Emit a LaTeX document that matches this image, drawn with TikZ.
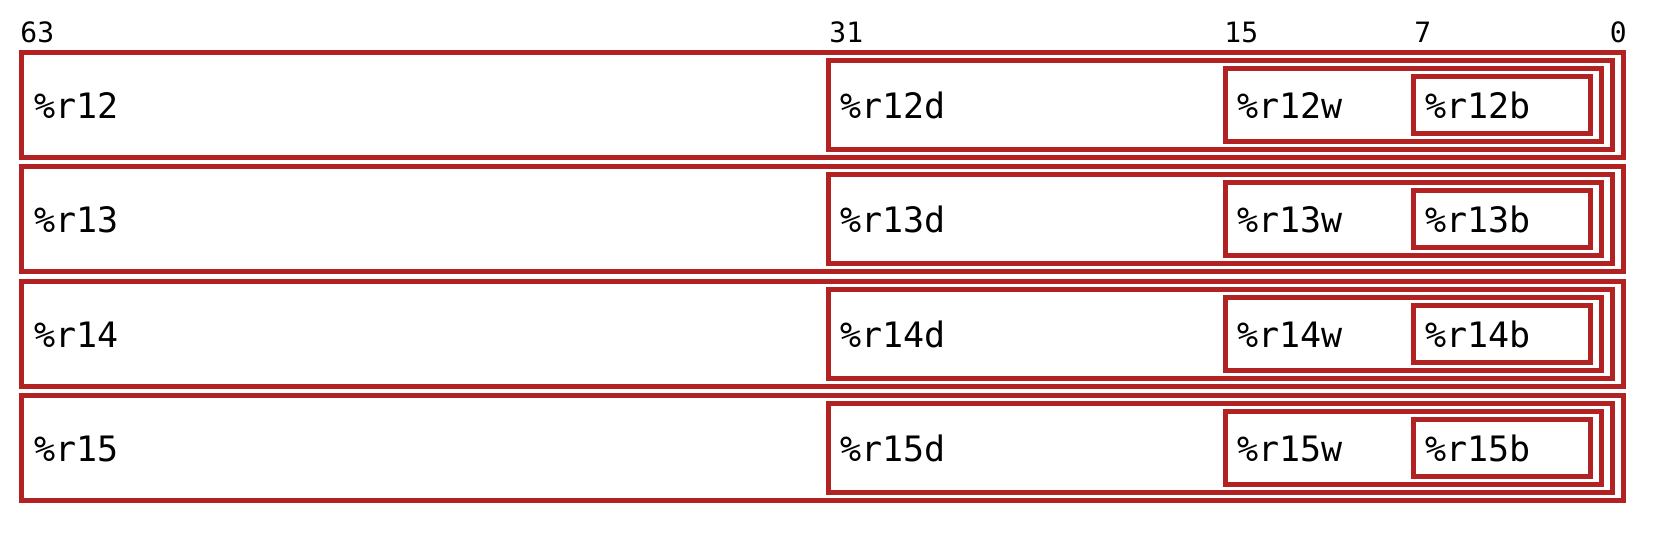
\documentclass[tikz,border=0pt]{standalone}
\usepackage{fontspec}
\setmonofont{DejaVu Sans Mono}
\definecolor{regred}{RGB}{178,34,34}

\begin{document}
\begin{tikzpicture}[
    x=0.5pt, y=-0.5pt,
    regbox/.style={draw=regred, line width=2.5pt},
    regname/.style={anchor=base west, inner sep=0pt, font=\ttfamily\fontsize{17.5}{20}\selectfont},
    bitpos/.style={anchor=base west, inner sep=0pt, font=\ttfamily\fontsize{14}{16}\selectfont}
]
\useasboundingbox (0,0) rectangle (1658,534);

% Bit positions along the top
\node[bitpos] (bit63) at (20,43) {63};
\node[bitpos] (bit31) at (829,43) {31};
\node[bitpos] (bit15) at (1224,43) {15};
\node[bitpos] (bit7) at (1414,43) {7};
\node[bitpos, anchor=base east] (bit0) at (1627,43) {0};

% One row per register: 64, 32, 16 and 8 bit parts nested to the right
\foreach \n [count=\i from 0] in {12,13,14,15} {
  \pgfmathsetmacro{\t}{52.5+114.3*\i}
  \draw[regbox] (21.5,\t) rectangle (1623,\t+105);
  \draw[regbox] (828.5,\t+8) rectangle (1612,\t+97);
  \draw[regbox] (1225.5,\t+16) rectangle (1601,\t+89);
  \draw[regbox] (1413.5,\t+24) rectangle (1590,\t+81);
  \node[regname] (reg\n) at (34,\t+66) {\%r\n};
  \node[regname] (reg\n d) at (840,\t+66) {\%r\n d};
  \node[regname] (reg\n w) at (1237,\t+66) {\%r\n w};
  \node[regname] (reg\n b) at (1425,\t+66) {\%r\n b};
}

\end{tikzpicture}
\end{document}
